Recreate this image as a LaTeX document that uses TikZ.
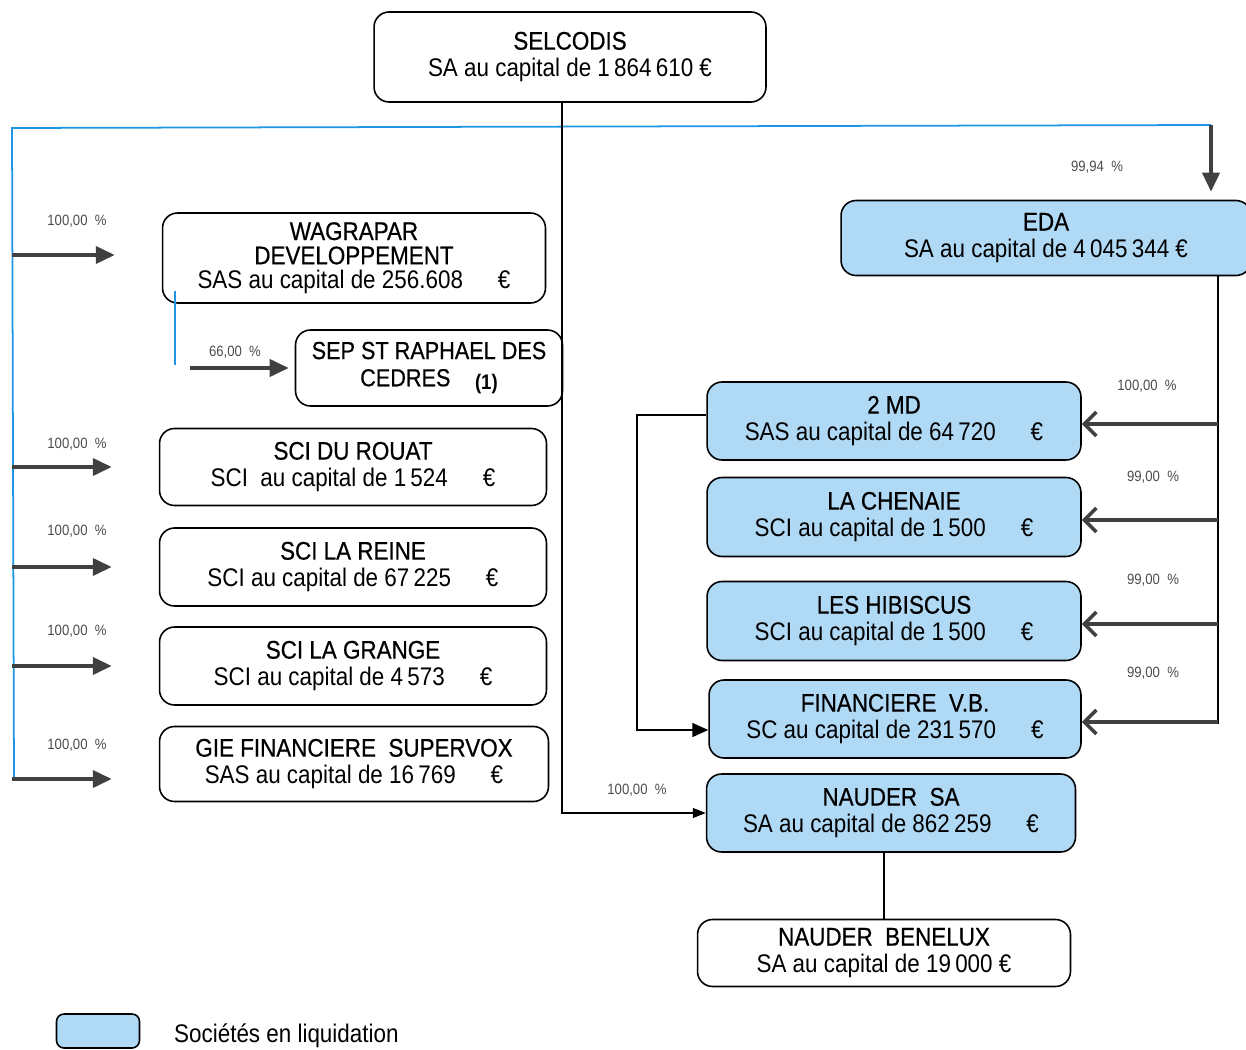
\documentclass[tikz,border=0pt]{standalone}
\usepackage{fontspec}
\setmainfont{Liberation Sans}[FakeStretch=0.88]
\usetikzlibrary{arrows.meta}
\definecolor{liqblue}{RGB}{176,217,245}
\definecolor{linkblue}{RGB}{30,150,230}
\definecolor{arrowgray}{RGB}{64,64,64}
\newcommand\boxfont{\fontsize{14.5}{15.5}\selectfont}
\newcommand\pctfont{\fontsize{8.5}{10}\selectfont}
\newcommand\eurogap{\hspace{0.7cm}€}
\newcommand\firmname[1]{{\addfontfeature{FakeBold=0.6}#1}}

\begin{document}
\begin{tikzpicture}[x=0.02cm,y=-0.02cm,
  firm/.style = {rectangle,draw=black,line width=0.9pt,rounded corners=0.3cm,align=center,inner sep=0pt,font=\boxfont},
  liq/.style = {firm,fill=liqblue},
  pct/.style = {font=\pctfont,text=black!70},
  hold/.style = {draw=arrowgray,line width=2.2pt,-{Triangle[length=3.8mm,width=3.4mm]}},
  sub/.style = {draw=arrowgray,line width=2.1pt,-{Straight Barb[length=2.4mm,width=4.8mm]}},
  link/.style = {draw=black,line width=0.7pt},
  bluelink/.style = {draw=linkblue,line width=1pt}]
\useasboundingbox (0,0) rectangle (1246,1050);

% holding and left column
\node[firm,minimum width=7.84cm,minimum height=1.8cm] (selcodis) at (570,57) {\firmname{SELCODIS}\\SA au capital de 1\,864\,610 €};
\node[firm,minimum width=7.66cm,minimum height=1.8cm,font=\fontsize{14.5}{13.8}\selectfont] (wag) at (354,258) {\firmname{WAGRAPAR}\\\firmname{DEVELOPPEMENT}\\SAS au capital de 256.608\eurogap};
\node[firm,minimum width=5.34cm,minimum height=1.52cm,font=\fontsize{14}{15.5}\selectfont] (sep) at (429,368) {\firmname{SEP ST RAPHAEL DES}\hspace{0.5cm}\\\firmname{CEDRES}\quad\raisebox{-2pt}{\bfseries\fontsize{12}{14}\selectfont(1)}};
\node[firm,minimum width=7.74cm,minimum height=1.54cm] (rouat) at (353,467) {\firmname{SCI DU ROUAT}\\SCI\ \ au capital de 1\,524\eurogap};
\node[firm,minimum width=7.74cm,minimum height=1.56cm] (reine) at (353,567) {\firmname{SCI LA REINE}\\SCI au capital de 67\,225\eurogap};
\node[firm,minimum width=7.74cm,minimum height=1.56cm] (grange) at (353,666) {\firmname{SCI LA GRANGE}\\SCI au capital de 4\,573\eurogap};
\node[firm,minimum width=7.78cm,minimum height=1.5cm] (gie) at (354,764) {\firmname{GIE FINANCIERE\ \ SUPERVOX}\\SAS au capital de 16\,769\eurogap};

% right column
\node[liq,minimum width=8.2cm,minimum height=1.5cm] (eda) at (1046,238) {\firmname{EDA}\\SA au capital de 4\,045\,344 €};
\node[liq,minimum width=7.48cm,minimum height=1.56cm] (md) at (894,421) {\firmname{2 MD}\\SAS au capital de 64\,720\eurogap};
\node[liq,minimum width=7.48cm,minimum height=1.58cm] (chen) at (894,517) {\firmname{LA CHENAIE}\\SCI au capital de 1\,500\eurogap};
\node[liq,minimum width=7.48cm,minimum height=1.58cm] (hib) at (894,621) {\firmname{LES HIBISCUS}\\SCI au capital de 1\,500\eurogap};
\node[liq,minimum width=7.44cm,minimum height=1.56cm] (fin) at (895,719) {\firmname{FINANCIERE\ \ V.B.}\\SC au capital de 231\,570\eurogap};
\node[liq,minimum width=7.38cm,minimum height=1.56cm] (nauder) at (891,813) {\firmname{NAUDER\ \ SA}\\SA au capital de 862\,259\eurogap};
\node[firm,minimum width=7.46cm,minimum height=1.34cm] (benelux) at (884,953) {\firmname{NAUDER\ \ BENELUX}\\SA au capital de 19\,000 €};

% percentages
\foreach \y [count=\i] in {221,444,531,631,745}
    \node[pct] (pl\i) at (77,\y) {100,00\ \ \%};
\node[pct] (psep) at (235,352) {66,00\ \ \%};
\node[pct] (peda) at (1097,167) {99,94\ \ \%};
\node[pct] (pmd) at (1147,386) {100,00\ \ \%};
\foreach \y [count=\i] in {477,580,673}
    \node[pct] (pr\i) at (1153,\y) {99,00\ \ \%};
\node[pct] (pnau) at (637,790) {100,00\ \ \%};

% blue spine
\coordinate (spine) at (12,128);
\coordinate (spineend) at (14,780);
\coordinate (edadrop) at (1211,125);
\draw[bluelink] (spineend) -- (spine) -- (edadrop);
\draw[hold,shorten >=0.16cm] (edadrop) -- (edadrop |- eda.north);
\foreach \b/\d in {wag/0.06,rouat/0,reine/0,grange/0,gie/-0.3}
    \draw[hold,shorten >=0.94cm] ([yshift=\d cm]spine |- \b.west) -- ([yshift=\d cm]\b.west);

\coordinate (wagtap) at (175,365);
\draw[bluelink] ([yshift=0.26cm]wagtap |- wag.south) -- (wagtap);
\draw[hold,shorten >=0.12cm] ([xshift=0.3cm]wagtap |- sep.west) -- (sep.west);

% EDA subsidiaries
\coordinate (rail) at (1218,276);
\draw[link,line width=1pt] (rail) -- (rail |- 0,724);
\foreach \b in {md,chen,hib,fin}
    \draw[sub] ([yshift=-0.06cm]rail |- \b.east) -- ([yshift=-0.06cm]\b.east);

\coordinate (mdturn) at (637,415);
\draw[link,line width=0.9pt,-{Triangle[length=3.2mm,width=2.8mm]}] (md.west |- mdturn) -- (mdturn) |- ([yshift=-0.22cm]fin.west);

\draw[link,-{Triangle[length=2.6mm,width=2mm]}] ([xshift=-0.16cm]selcodis.south) |- (nauder.west);
\draw[link] (nauder.south -| benelux.north) -- (benelux.north);

% legend
\node[liq,minimum width=1.66cm,minimum height=0.68cm,rounded corners=0.15cm] (legend) at (98,1031) {};
\node[anchor=west,font=\boxfont] (legendtxt) at (168,1036) {Sociétés en liquidation};
\end{tikzpicture}
\end{document}
